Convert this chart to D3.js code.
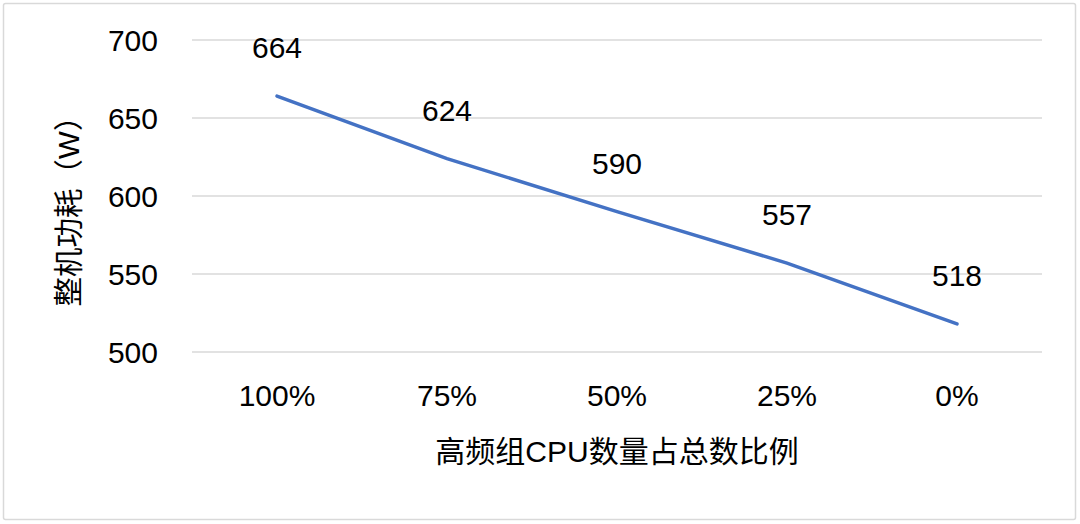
<!DOCTYPE html>
<html><head><meta charset="utf-8">
<script src="https://cdn.jsdelivr.net/npm/d3@7"></script>
<style>
html,body{margin:0;padding:0;background:#fff;}
text{font-family:"Liberation Sans","Noto Sans CJK SC",sans-serif;fill:#000;}
</style></head><body>
<svg id="c" width="1080" height="524"></svg>
<script>
const categories = ["100%","75%","50%","25%","0%"];
const values = [664,624,590,557,518];
const yTicks = [500,550,600,650,700];
const xTitle = "高频组CPU数量占总数比例";
const yTitle = "整机功耗（W）";

(function(){
const svg = d3.select("#c");
svg.append("rect").attr("x",3.5).attr("y",3.5).attr("width",1072).attr("height",516)
  .attr("fill","#fff").attr("stroke","#d9d9d9").attr("stroke-width",1.5).attr("rx",2);

const pl=192,pr=1042,pt=40,pb=352;
const fs=30;
const x = d3.scaleBand().domain(categories).range([pl,pr]);
const y = d3.scaleLinear().domain([500,700]).range([pb,pt]);

const grid = svg.append("g");
grid.selectAll("line").data(yTicks).join("line")
  .attr("x1",pl).attr("x2",pr).attr("y1",d=>y(d)).attr("y2",d=>y(d))
  .attr("stroke","#d9d9d9").attr("stroke-width",1.5);

const yAxis = svg.append("g").attr("transform",`translate(${pl},0)`)
  .call(d3.axisLeft(y).tickValues(yTicks).tickSize(0).tickPadding(34));
yAxis.select(".domain").remove();
yAxis.selectAll("text").attr("font-size",fs).attr("dy","0.36em").attr("fill","#000")
  .style("font-family","Liberation Sans, sans-serif");

const xAxis = svg.append("g").attr("transform",`translate(0,${pb})`)
  .call(d3.axisBottom(x).tickSize(0).tickPadding(33));
xAxis.select(".domain").remove();
xAxis.selectAll("text").attr("font-size",fs).attr("fill","#000").style("font-family","Liberation Sans, sans-serif");

const line = d3.line().x((d,i)=>x(categories[i])+x.bandwidth()/2).y(d=>y(d));
svg.append("path").datum(values).attr("d",line)
  .attr("fill","none").attr("stroke","#4472c4").attr("stroke-width",3.5).attr("stroke-linecap","round");

svg.append("g").selectAll("text").data(values).join("text")
  .attr("x",(d,i)=>x(categories[i])+x.bandwidth()/2)
  .attr("y",d=>y(d)-38)
  .attr("text-anchor","middle").attr("font-size",fs).text(d=>d);

svg.append("text").attr("x",617).attr("y",462).attr("text-anchor","middle")
  .attr("font-size",30).text(xTitle);
svg.append("text").attr("transform","translate(79,204) rotate(-90)")
  .attr("text-anchor","middle").attr("font-size",29.5).text(yTitle);
})();
</script></body></html>
